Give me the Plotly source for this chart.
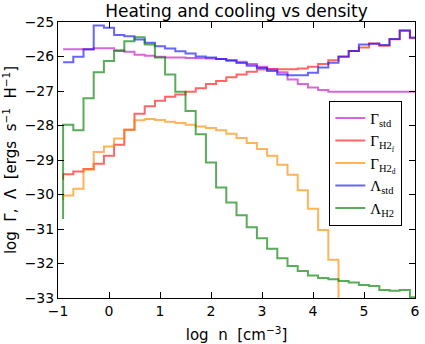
"""Heating and cooling rates vs density, drawn as step histograms."""
import plotly.graph_objects as go

# bin right edges in log n (steps are drawn vertical-then-horizontal)
LOG_N = [-0.9, -0.7, -0.5, -0.3, -0.1, 0.1, 0.3, 0.5, 0.7, 0.9, 1.1, 1.3,
         1.5, 1.7, 1.9, 2.1, 2.3, 2.5, 2.7, 2.9, 3.1, 3.3, 3.5, 3.7,
         3.9, 4.1, 4.3, 4.5, 4.7, 4.9, 5.1, 5.3, 5.5, 5.7, 5.9, 6.1]

GAMMA_STD = [-25.79, -25.79, -25.79, -25.78, -25.76, -25.76, -25.82, -25.86,
             -25.95, -25.98, -26.01, -26.03, -26.03, -26.04, -26.05, -26.06,
             -26.07, -26.10, -26.15, -26.22, -26.30, -26.36, -26.46, -26.67,
             -26.80, -26.90, -26.97, -27.02, -27.02, -27.02, -27.02, -27.02,
             -27.02, -27.02, -27.02, -27.02]

GAMMA_H2F = [-29.57, -29.41, -29.33, -29.26, -29.11, -28.88, -28.56, -28.12,
             -27.66, -27.44, -27.28, -27.17, -27.10, -27.02, -26.92, -26.80,
             -26.71, -26.60, -26.52, -26.44, -26.38, -26.38, -26.37, -26.37,
             -26.35, -26.30, -26.22, -26.11, -26.00, -25.84, -25.74, -25.62,
             -25.69, -25.50, -25.26, -25.47]

GAMMA_H2D = [-30.17, -30.03, -29.83, -29.28, -28.77, -28.61, -28.38, -28.12,
             -27.85, -27.81, -27.84, -27.89, -27.93, -27.98, -28.03, -28.07,
             -28.14, -28.24, -28.36, -28.51, -28.68, -28.88, -29.14, -29.43,
             -29.88, -30.41, -31.03, -31.89, -40.0, None, None, None,
             None, None, None, None]

LAMBDA_STD = [-26.17, -26.17, -26.01, -25.80, -25.10, -25.17, -25.38, -25.41,
              -25.51, -25.60, -25.70, -25.77, -25.85, -25.91, -26.00, -26.03,
              -26.07, -26.12, -26.19, -26.27, -26.33, -26.42, -26.52, -26.54,
              -26.54, -26.47, -26.32, -26.18, -26.01, -25.84, -25.65, -25.63,
              -25.67, -25.49, -25.24, -25.45]

LAMBDA_H2 = [-30.71, -27.98, -28.14, -27.21, -26.46, -26.13, -25.84, -25.56,
             -25.44, -25.65, -26.03, -26.52, -27.02, -27.58, -28.25, -29.07,
             -29.80, -30.23, -30.60, -30.95, -31.27, -31.57, -31.85, -32.07,
             -32.22, -32.35, -32.42, -32.46, -32.51, -32.55, -32.62, -32.65,
             -32.77, -32.79, -32.77, -32.98]

SERIES = [
    ('Γ<sub>std</sub>', GAMMA_STD, 'rgba(191,0,191,0.6)'),
    ('Γ<sub>H2<sub>f</sub></sub>', GAMMA_H2F, 'rgba(255,0,0,0.6)'),
    ('Γ<sub>H2<sub>d</sub></sub>', GAMMA_H2D, 'rgba(255,140,0,0.65)'),
    ('Λ<sub>std</sub>', LAMBDA_STD, 'rgba(0,0,255,0.6)'),
    ('Λ<sub>H2</sub>', LAMBDA_H2, 'rgba(0,128,0,0.65)'),
]

X_TICKS = [-1, 0, 1, 2, 3, 4, 5, 6]
Y_TICKS = [-25, -26, -27, -28, -29, -30, -31, -32, -33]

fig = go.Figure()
for name, values, colour in SERIES:
    fig.add_trace(go.Scatter(x=LOG_N, y=values, name=name, mode='lines',
                             line=dict(shape='vh', width=2, color=colour),
                             connectgaps=False))

axis_style = dict(showline=True, linecolor='black', linewidth=1, mirror='allticks',
                  ticks='inside', ticklen=6, tickcolor='black', showgrid=False,
                  zeroline=False, automargin=False,
                  tickfont=dict(size=14, color='black'))

# mathtext-style labels: wider gaps between the words
x_title = 'log\u00a0 n\u00a0 [cm<sup>−3</sup>]'
y_title = 'log\u00a0 Γ,\u00a0 Λ\u00a0 [ergs\u00a0 s<sup>−1</sup>\u00a0 H<sup>−1</sup>]'

fig.update_layout(
    width=425, height=344,
    margin=dict(l=58, r=10, t=22, b=46),
    paper_bgcolor='white', plot_bgcolor='white',
    font=dict(family='DejaVu Sans', color='black'),
    title=dict(text='Heating and cooling vs density', xref='paper', x=0.5,
               xanchor='center', y=0.985, yanchor='top', font=dict(size=17)),
    xaxis=dict(range=[-1, 6], tickvals=X_TICKS,
               title=dict(text=x_title, font=dict(size=15)),
               **axis_style),
    yaxis=dict(range=[-33, -25], tickvals=Y_TICKS,
               title=dict(text=y_title, font=dict(size=15)),
               **axis_style),
    legend=dict(x=0.76, y=0.715, xanchor='left', yanchor='top',
                bgcolor='white', bordercolor='black', borderwidth=1,
                font=dict(family='Liberation Serif', size=15)),
)

# drop the default page margin so the figure sits at the window's corner
fig.write_html("out.html", config={'displayModeBar': False},
               post_script="document.body.style.margin = '0';")
